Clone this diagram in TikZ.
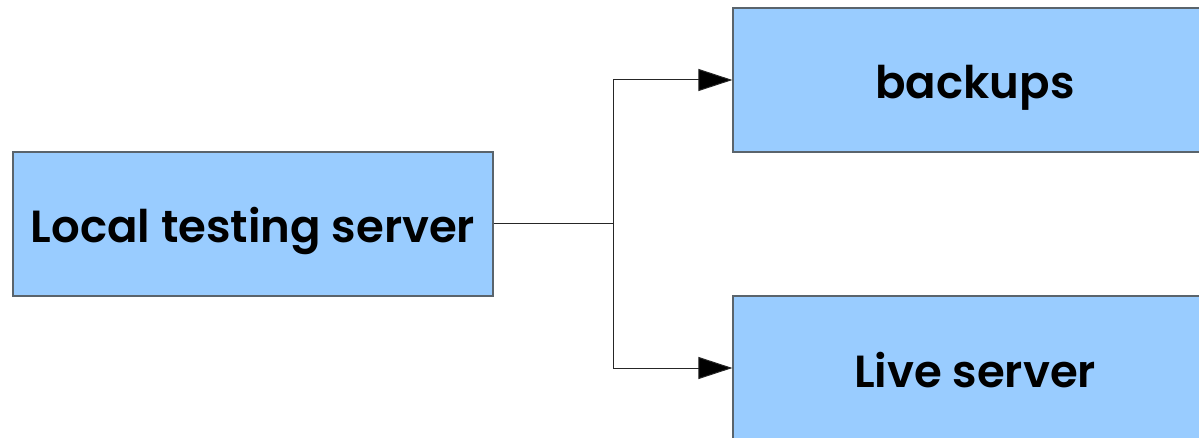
\documentclass[tikz,border=0pt]{standalone}
\usepackage{fontspec}
\setmainfont{Poppins}[BoldFont={Poppins SemiBold}]
\usetikzlibrary{arrows.meta}
\definecolor{boxfill}{HTML}{99CCFF}
\definecolor{boxline}{HTML}{5A646C}
\begin{document}
\begin{tikzpicture}[x=1pt,y=1pt,
  boxstyle/.style={draw=boxline,line width=1.2pt,fill=boxfill,rectangle,inner sep=0pt,
     text height=44pt,text depth=6pt,
     font=\fontsize{45}{45}\selectfont\bfseries},
  conn/.style={line width=1pt,draw=black!85},
  tip/.style={-{Triangle[length=34pt,width=22pt,fill=black]}}]
\useasboundingbox (0,0) rectangle (1199,-438);
\clip (0,0) rectangle (1199,-438);
\node[boxstyle,minimum width=480pt,minimum height=144pt] (local) at (253,-224) {Local testing server};
\node[boxstyle,minimum width=484pt,minimum height=144pt] (backups) at (975,-80) {backups};
\node[boxstyle,minimum width=484pt,minimum height=144pt] (live) at (975,-368) {Live server};
\coordinate (junc) at (613,-224);
\draw[conn] (local.east) -- (junc);
\draw[conn,tip] (junc) |- (backups.west);
\draw[conn,tip] (junc) |- (live.west);
\end{tikzpicture}
\end{document}
